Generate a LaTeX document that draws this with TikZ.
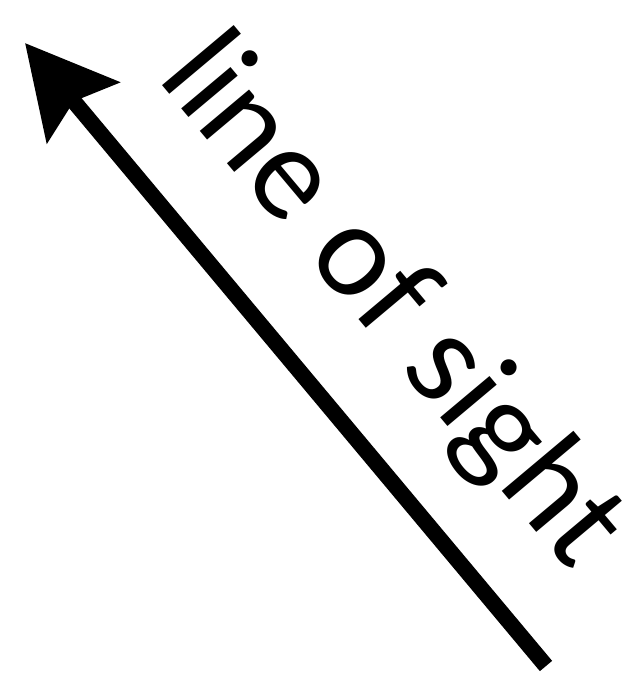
\documentclass[tikz,border=0pt]{standalone}
\usepackage{fontspec}
\setmainfont{Lato}
\usepackage{tikz}
\usetikzlibrary{arrows.meta}

\begin{document}
\begin{tikzpicture}[x=1pt, y=1pt]
  \useasboundingbox (0,0) rectangle (632,678);

  % Arrow
  \coordinate (tail) at (546,12);
  \coordinate (head) at (25,635);
  \draw[line width=16pt, -{Stealth[length=90pt, width=93pt, inset=14pt]}] (tail) -- (head);

  % Label
  \node[anchor=base west, rotate=-50, inner sep=0pt, font=\fontsize{127}{150}\selectfont] (sight) at (156,600) {line of sight};
\end{tikzpicture}
\end{document}
